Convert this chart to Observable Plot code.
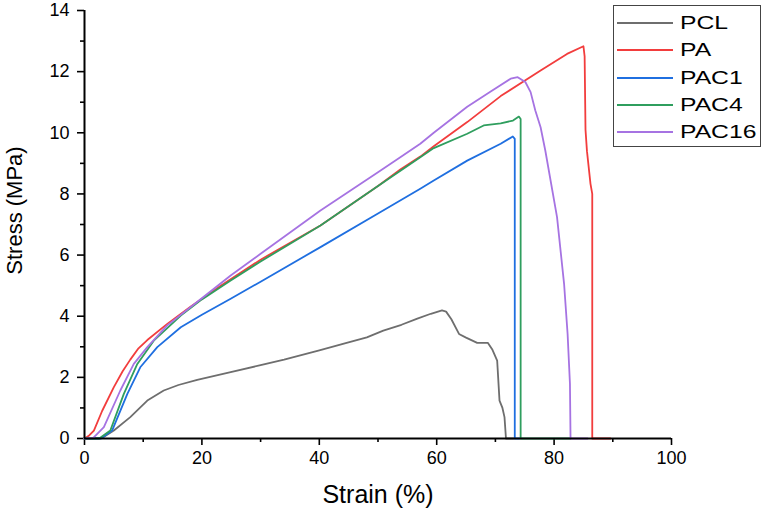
<!DOCTYPE html>
<html>
<head>
<meta charset="utf-8">
<script src="https://cdn.jsdelivr.net/npm/d3@7"></script>
<script src="https://cdn.jsdelivr.net/npm/@observablehq/plot@0.6"></script>
<style>
  html, body { margin: 0; padding: 0; background: #fff; }
  #wrap { position: relative; width: 764px; height: 509px; font-family: "Liberation Sans", Arial, sans-serif; }
  #legend { position: absolute; left: 613px; top: 5px; width: 148px; height: 142px; border: 1.5px solid #444; background: #fff; box-sizing: border-box; }
  .row { position: absolute; left: 0; height: 24px; display: flex; align-items: center; }
  .sw { width: 56px; height: 0; border-top: 2px solid; margin-left: 3px; margin-right: 7px; }
  .lab { font-size: 19px; color: #000; display: inline-block; transform: scaleX(1.3); transform-origin: left center; }
</style>
</head>
<body>
<div id="wrap"></div>
<script>
// ---- data ----
const seriesNames = ["PCL", "PA", "PAC1", "PAC4", "PAC16"];
const seriesColors = ["#6e6e6e", "#f23d3d", "#1f6fe0", "#2f9e5e", "#a673e2"];

const pclStrain = [0, 3, 5, 7.8, 10.7, 13.5, 16, 19.2, 24.9, 30, 34, 40, 44.5, 48.1, 50.9, 54, 56.7, 59, 60.9, 61.6, 62.5, 63.8, 65, 66.9, 68.7, 69.5, 70.3, 70.7, 71.2, 71.55, 71.8, 73.1];
const pclStress = [0, 0.02, 0.26, 0.7, 1.24, 1.57, 1.75, 1.92, 2.17, 2.4, 2.58, 2.88, 3.12, 3.31, 3.53, 3.72, 3.92, 4.08, 4.19, 4.15, 3.9, 3.42, 3.3, 3.13, 3.13, 2.9, 2.55, 1.24, 1.0, 0.7, 0, 0];

const paStrain = [0, 0.8, 1.6, 3, 5, 6.5, 7.8, 9.2, 10.7, 14.1, 18, 23.2, 30, 40.2, 50, 53.8, 57.2, 59.5, 65.2, 70.9, 77.7, 82.2, 85.0, 85.2, 85.35, 85.6, 86.2, 86.5, 86.5, 89.6];
const paStress = [0, 0.1, 0.26, 0.9, 1.68, 2.2, 2.58, 2.95, 3.22, 3.75, 4.3, 5.0, 5.85, 6.97, 8.26, 8.8, 9.22, 9.56, 10.35, 11.2, 12.04, 12.58, 12.83, 12.5, 10.1, 9.4, 8.33, 8.0, 0, 0];

const pac1Strain = [0, 2.8, 4.7, 7.3, 9.5, 12.4, 16.4, 20, 24.9, 30, 40.2, 50, 57.2, 59.5, 65.2, 70.9, 72.97, 73.3, 73.3, 74.1];
const pac1Stress = [0, 0, 0.26, 1.46, 2.33, 2.99, 3.64, 4.05, 4.57, 5.13, 6.26, 7.36, 8.17, 8.44, 9.09, 9.64, 9.88, 9.8, 0, 0];

const pac4Strain = [0, 2.5, 4.4, 6.7, 9.0, 11.8, 16.4, 20, 24.9, 30, 40.2, 50, 57.2, 59.5, 65.2, 68.0, 70.9, 73.0, 74.0, 74.3, 74.3, 82.8];
const pac4Stress = [0, 0, 0.26, 1.46, 2.44, 3.2, 4.02, 4.55, 5.17, 5.79, 6.97, 8.26, 9.2, 9.5, 9.97, 10.24, 10.31, 10.4, 10.53, 10.45, 0, 0];

const pac16Strain = [0, 1.5, 3.3, 6.1, 8.4, 10.7, 14.1, 18.1, 24.9, 30, 40.2, 50, 53.8, 57.2, 59.5, 65.2, 69.2, 72.6, 73.8, 75.1, 76.0, 76.8, 77.7, 78.5, 80.5, 81.7, 82.3, 82.7, 82.8, 85.7];
const pac16Stress = [0, 0.02, 0.37, 1.57, 2.44, 2.99, 3.7, 4.3, 5.33, 6.04, 7.46, 8.71, 9.2, 9.64, 10.0, 10.85, 11.35, 11.77, 11.82, 11.66, 11.33, 10.73, 10.18, 9.42, 7.24, 5.06, 3.42, 1.79, 0, 0];

const xMajorTicks = [0, 20, 40, 60, 80, 100];
const xMinorTicks = [10, 30, 50, 70, 90];
const yMajorTicks = [0, 2, 4, 6, 8, 10, 12, 14];
const yMinorTicks = [1, 3, 5, 7, 9, 11, 13];
const xLabel = "Strain (%)";
const yLabel = "Stress (MPa)";

// ---- build table ----
const strainArrays = [pclStrain, paStrain, pac1Strain, pac4Strain, pac16Strain];
const stressArrays = [pclStress, paStress, pac1Stress, pac4Stress, pac16Stress];
const rows = [];
seriesNames.forEach((name, i) => {
  strainArrays[i].forEach((s, j) => rows.push({series: name, strain: s, stress: stressArrays[i][j]}));
});

const font = "Liberation Sans, Arial, sans-serif";
const chart = Plot.plot({
  width: 764,
  height: 509,
  marginLeft: 84,
  marginRight: 93,
  marginTop: 10,
  marginBottom: 71,
  style: {fontFamily: font, background: "#fff", color: "#000"},
  x: {domain: [0, 100]},
  y: {domain: [0, 14]},
  color: {domain: seriesNames, range: seriesColors},
  marks: [
    Plot.axisX({ticks: xMajorTicks, tickSize: 7, tickPadding: 6, fontSize: 18, strokeWidth: 1.6, label: null}),
    Plot.axisX({ticks: xMinorTicks, tickSize: 4, tickFormat: () => "", strokeWidth: 1.6, label: null}),
    Plot.axisY({ticks: yMajorTicks, tickSize: 7, tickPadding: 8, fontSize: 18, strokeWidth: 1.6, label: null}),
    Plot.axisY({ticks: yMinorTicks, tickSize: 4, tickFormat: () => "", strokeWidth: 1.6, label: null}),
    Plot.line(rows, {x: "strain", y: "stress", z: "series", stroke: "series", strokeWidth: 1.8, curve: "linear"}),
    Plot.ruleY([0], {stroke: "#000", strokeWidth: 2}),
    Plot.ruleX([0], {stroke: "#000", strokeWidth: 2}),
    Plot.text([xLabel], {frameAnchor: "bottom", lineAnchor: "middle", textAnchor: "middle", dy: 56, fontSize: 25, text: d => d}),
    Plot.text([yLabel], {frameAnchor: "left", lineAnchor: "middle", textAnchor: "middle", dx: -70, dy: -14, rotate: -90, fontSize: 22, text: d => d})
  ]
});

const wrap = document.getElementById("wrap");
wrap.appendChild(chart);

// legend (HTML overlay)
const legend = document.createElement("div");
legend.id = "legend";
seriesNames.forEach((name, i) => {
  const row = document.createElement("div");
  row.className = "row";
  row.style.top = (5 + i * 27.3) + "px";
  const sw = document.createElement("div");
  sw.className = "sw";
  sw.style.borderTopColor = seriesColors[i];
  const lab = document.createElement("span");
  lab.className = "lab";
  lab.textContent = name;
  row.appendChild(sw);
  row.appendChild(lab);
  legend.appendChild(row);
});
wrap.appendChild(legend);
</script>
</body>
</html>
